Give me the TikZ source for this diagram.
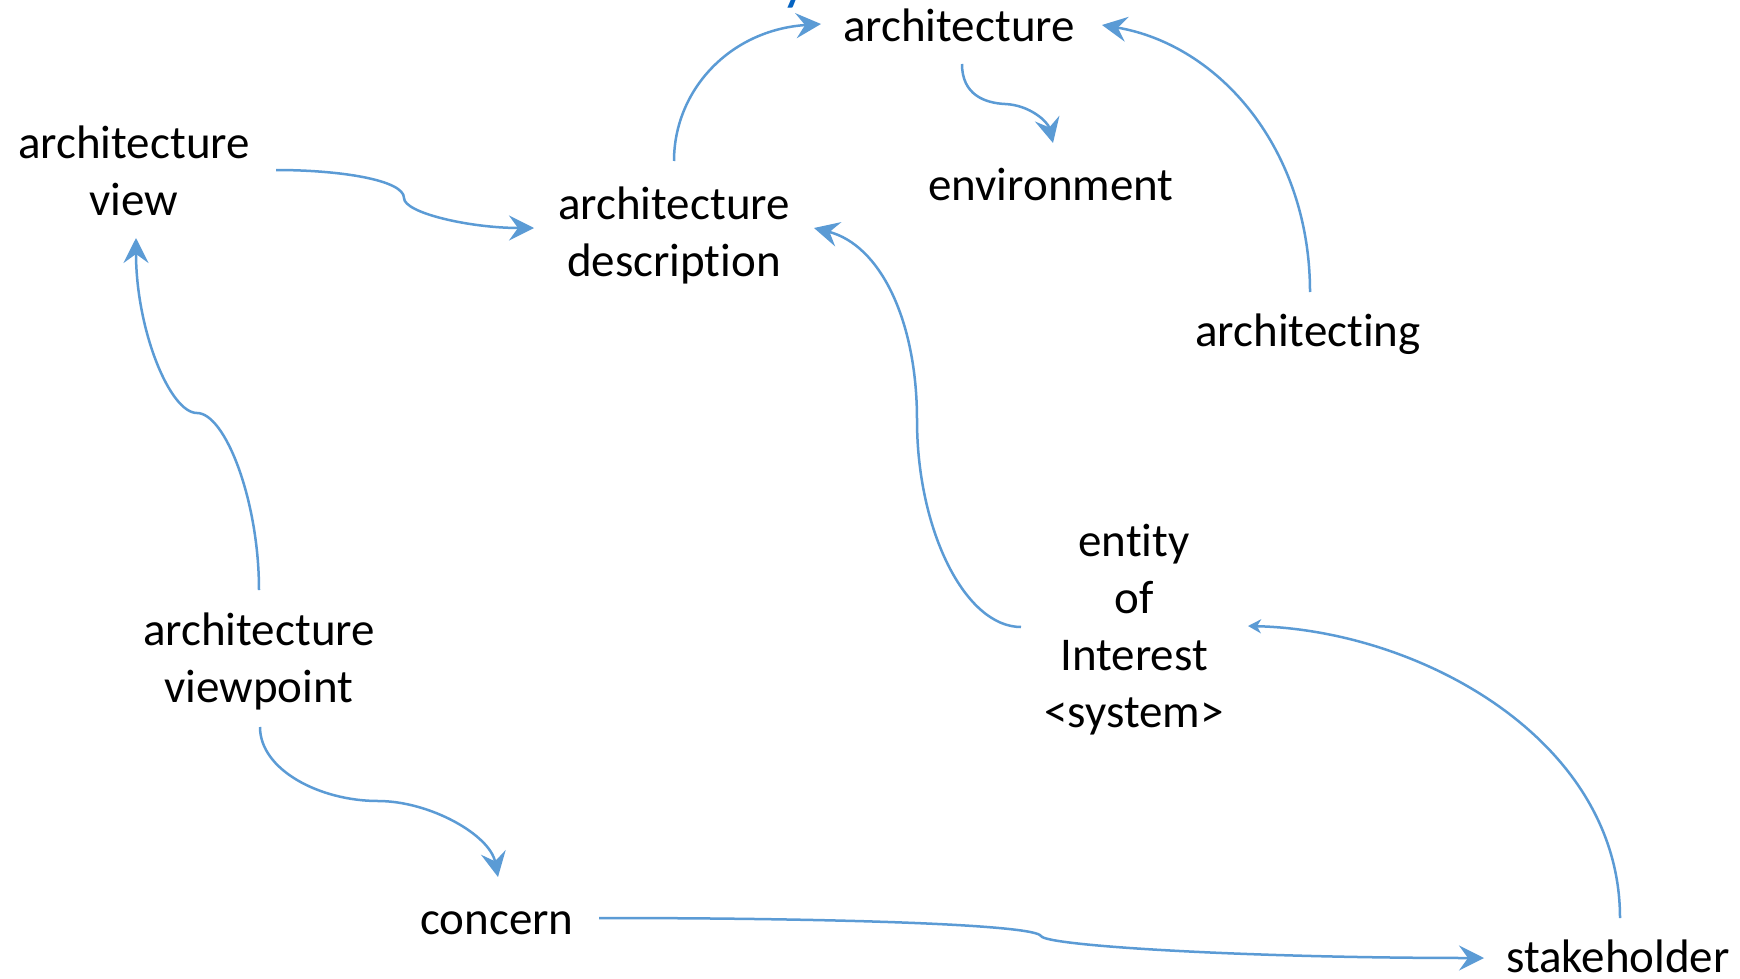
\documentclass[tikz,border=0pt]{standalone}
\usepackage{fontspec}
\setmainfont{Carlito}[Ligatures=NoCommon]
\usetikzlibrary{arrows.meta,calc}
\definecolor{linkblue}{HTML}{5B9BD5}
\definecolor{titleblue}{HTML}{0563C1}
% centred lines whose baseline is the first line's baseline
\newcommand{\stackedtext}[1]{\begin{tabular}[t]{@{}c@{}}#1\end{tabular}}
\begin{document}
\begin{tikzpicture}[x=1pt,y=-1pt,
  conc/.style={inner sep=0pt,outer sep=0pt,anchor=base,
    font=\fontsize{47pt}{57pt}\selectfont},
  rel/.style={draw=linkblue,line width=2.5pt,
    -{Stealth[length=25pt,width=25pt,inset=9pt]}},
  relsmall/.style={draw=linkblue,line width=2.5pt,
    -{Stealth[length=13pt,width=14pt,inset=4pt]}}]
\fill[white] (0,0) rectangle (1740,979);
\useasboundingbox (0,0) rectangle (1740,979);

% tail of a heading that runs off the top edge
\node[anchor=base west,inner sep=0pt,text=titleblue,
  font=\fontsize{60pt}{70pt}\selectfont] (cut) at (781,-1) {y};

% concepts
\node[conc] (arch)    at (959,42)   {architecture};
\node[conc] (env)     at (1051,200) {environment};
\node[conc] (view)    at (134,158)  {\stackedtext{architecture\\view}};
\node[conc] (desc)    at (674,219)  {\stackedtext{architecture\\description}};
\node[conc] (archg)   at (1308,346) {architecting};
\node[conc] (entity)  at (1134,556) {\stackedtext{entity\\of\\Interest\\<system>}};
\node[conc] (vp)      at (259,645)  {\stackedtext{architecture\\viewpoint}};
\node[conc] (concern) at (497,934)  {concern};
\node[conc] (stake)   at (1618,972) {stakeholder};

% relations
\draw[rel] ($(desc.base)+(0,-58)$) .. controls (674,90) and (730,30)
  .. ($(arch.base)+(-138,-18)$);
\draw[rel] ($(arch.base)+(3,22)$) .. controls (962,95) and (985,103) .. (1005,104)
  .. controls (1030,105) and (1048,122) .. ($(env.base)+(2,-57)$);
\draw[rel] ($(archg.base)+(2,-54)$) .. controls (1310,150) and (1220,45)
  .. ($(arch.base)+(143,-17)$);
\draw[rel] ($(view.base)+(142,12)$) .. controls (340,170) and (404,180) .. (404,198)
  .. controls (404,213) and (470,228) .. ($(desc.base)+(-140,9)$);
\draw[rel] ($(vp.base)+(0,-55)$) .. controls (259,500) and (225,413) .. (197,413)
  .. controls (170,413) and (136,330) .. ($(view.base)+(2,80)$);
\draw[rel] ($(vp.base)+(1,82)$) .. controls (260,770) and (320,801) .. (378,801)
  .. controls (430,801) and (490,835) .. ($(concern.base)+(1,-57)$);
\draw[rel] ($(concern.base)+(102,-16)$) .. controls (850,918) and (1035,925) .. (1041,936)
  .. controls (1046,946) and (1250,958) .. ($(stake.base)+(-134,-14)$);
\draw[relsmall] ($(stake.base)+(2,-54)$) .. controls (1620,740) and (1420,630)
  .. ($(entity.base)+(114,70)$);
\draw[rel] ($(entity.base)+(-113,71)$) .. controls (965,627) and (917,530) .. (917,420)
  .. controls (917,320) and (880,245) .. ($(desc.base)+(140,9)$);
\end{tikzpicture}
\end{document}
